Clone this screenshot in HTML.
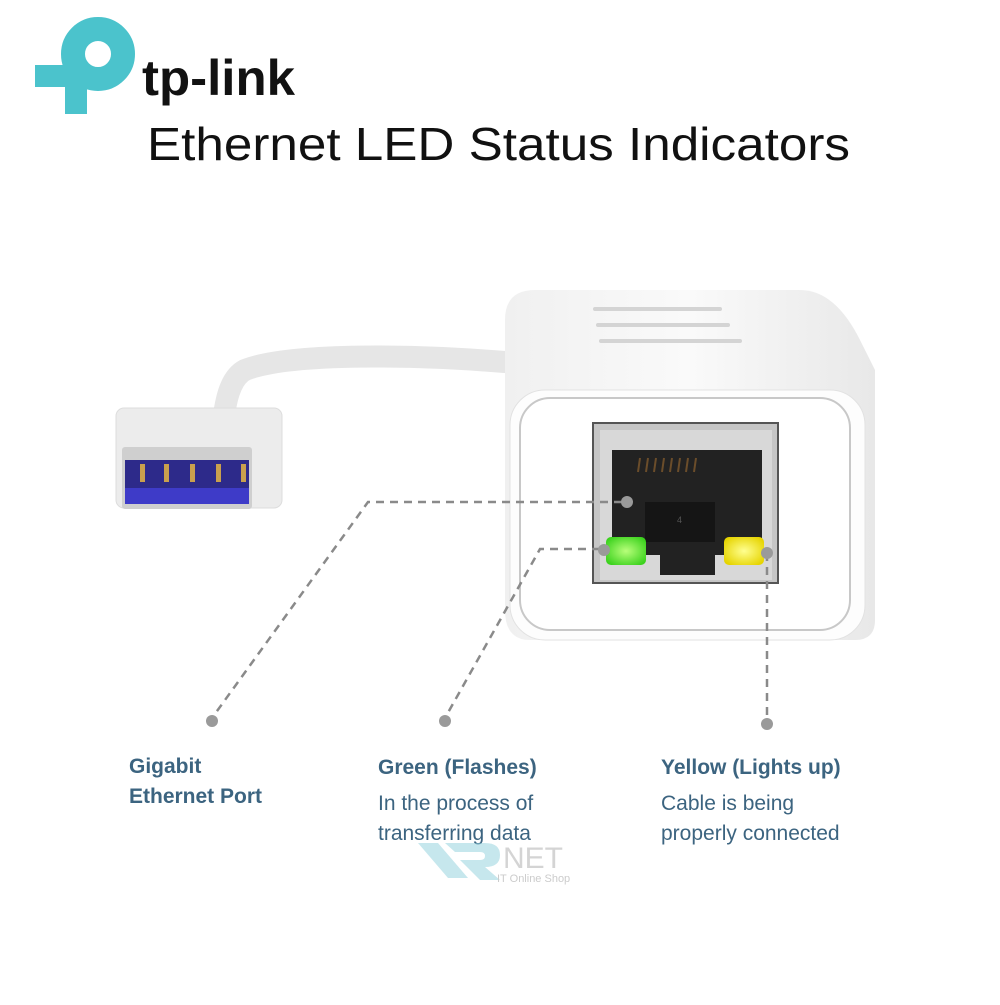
<!DOCTYPE html>
<html><head><meta charset="utf-8"><style>
body{margin:0;background:#fff;width:1000px;height:1000px;overflow:hidden;font-family:"Liberation Sans",sans-serif}
</style></head><body>
<svg width="1000" height="1000" viewBox="0 0 1000 1000" xmlns="http://www.w3.org/2000/svg">
<defs>
<linearGradient id="body" x1="0" y1="0" x2="1" y2="0"><stop offset="0" stop-color="#f0f0f0"/><stop offset="0.5" stop-color="#fafafa"/><stop offset="1" stop-color="#e8e8e8"/></linearGradient>
<radialGradient id="g" cx="0.5" cy="0.5" r="0.6"><stop offset="0" stop-color="#b8ff7a"/><stop offset="1" stop-color="#3cd21e"/></radialGradient>
<radialGradient id="y" cx="0.5" cy="0.5" r="0.6"><stop offset="0" stop-color="#ffff90"/><stop offset="1" stop-color="#e6d400"/></radialGradient>
</defs>
<!-- logo -->
<circle cx="98" cy="54" r="25" fill="none" stroke="#4bc3cc" stroke-width="24"/>
<rect x="35" y="65" width="52" height="22" fill="#4bc3cc"/>
<rect x="65" y="65" width="22" height="49" fill="#4bc3cc"/>
<text x="142" y="95" font-size="50" font-weight="bold" fill="#111" font-family="Liberation Sans" textLength="153" lengthAdjust="spacingAndGlyphs">tp-link</text>
<text x="147" y="160" font-size="46" fill="#111" font-family="Liberation Sans" textLength="703" lengthAdjust="spacingAndGlyphs">Ethernet LED Status Indicators</text>
<!-- cable -->
<path d="M505 362 C420 355 290 352 245 370 C230 378 225 400 222 432" stroke="#e6e6e6" stroke-width="22" fill="none" stroke-linecap="round"/>
<!-- usb plug -->
<rect x="116" y="408" width="166" height="100" rx="8" fill="#ececec" stroke="#ddd"/>
<rect x="122" y="447" width="130" height="62" rx="3" fill="#cfcfcf"/>
<rect x="125" y="460" width="124" height="44" fill="#2d2a8a"/>
<rect x="125" y="488" width="124" height="16" fill="#3e3bc8"/>
<g fill="#c9a04e"><rect x="140" y="464" width="5" height="18"/><rect x="164" y="464" width="5" height="18"/><rect x="190" y="464" width="5" height="18"/><rect x="216" y="464" width="5" height="18"/><rect x="241" y="464" width="5" height="18"/></g>
<!-- device body -->
<path d="M535 290 H800 Q835 290 860 340 L875 370 V620 Q875 640 855 640 H530 Q505 640 505 610 V320 Q505 290 535 290z" fill="url(#body)"/>
<g stroke="#d4d4d4" stroke-width="4" stroke-linecap="round"><line x1="595" y1="309" x2="720" y2="309"/><line x1="598" y1="325" x2="728" y2="325"/><line x1="601" y1="341" x2="740" y2="341"/></g>
<rect x="510" y="390" width="355" height="250" rx="35" fill="#fdfdfd" stroke="#e2e2e2"/>
<rect x="520" y="398" width="330" height="232" rx="30" fill="#fff" stroke="#c8c8c8" stroke-width="2"/>
<!-- port -->
<rect x="593" y="423" width="185" height="160" fill="#c6c6c6" stroke="#555" stroke-width="2"/>
<rect x="600" y="430" width="172" height="150" fill="#d8d8d8"/>
<path d="M612 450 H762 V555 H715 V575 H660 V555 H612z" fill="#222"/>
<g stroke="#6b4d2a" stroke-width="2"><line x1="640" y1="458" x2="638" y2="472"/><line x1="648" y1="458" x2="646" y2="472"/><line x1="656" y1="458" x2="654" y2="472"/><line x1="664" y1="458" x2="662" y2="472"/><line x1="672" y1="458" x2="670" y2="472"/><line x1="680" y1="458" x2="678" y2="472"/><line x1="688" y1="458" x2="686" y2="472"/><line x1="696" y1="458" x2="694" y2="472"/></g>
<rect x="645" y="502" width="70" height="40" fill="#151515"/>
<text x="677" y="523" font-size="9" fill="#555">4</text>
<rect x="606" y="537" width="40" height="28" rx="5" fill="url(#g)"/>
<rect x="724" y="537" width="40" height="28" rx="5" fill="url(#y)"/>
<!-- dashed callouts -->
<g stroke="#8a8a8a" stroke-width="2.5" stroke-dasharray="8 6" fill="none">
<path d="M622 502 H368 L212 718"/>
<path d="M600 549 H540 L445 718"/>
<path d="M767 553 V718"/>
</g>
<g fill="#9a9a9a"><circle cx="627" cy="502" r="6"/><circle cx="604" cy="550" r="6"/><circle cx="767" cy="553" r="6"/><circle cx="212" cy="721" r="6"/><circle cx="445" cy="721" r="6"/><circle cx="767" cy="724" r="6"/></g>
<!-- labels -->
<g font-family="Liberation Sans" fill="#3c6480" font-size="21">
<text x="129" y="773" font-weight="bold">Gigabit</text>
<text x="129" y="803" font-weight="bold">Ethernet Port</text>
<text x="378" y="774" font-weight="bold">Green (Flashes)</text>
<text x="378" y="810">In the process of</text>
<text x="378" y="840">transferring data</text>
<text x="661" y="774" font-weight="bold">Yellow (Lights up)</text>
<text x="661" y="810">Cable is being</text>
<text x="661" y="840">properly connected</text>
</g>
<!-- watermark -->
<g opacity="0.5"><path d="M418 843 h20 l30 35 h-20z M445 843 h40 q15 0 15 12 q0 12 -15 12 l15 13 h-20 l-20 -20 h20 q5 0 5 -4 q0 -4 -5 -4 h-25z" fill="#8fd0dc"/>
<text x="503" y="868" font-size="30" fill="#aaa">NET</text>
<text x="497" y="882" font-size="11" fill="#999">IT Online  Shop</text></g>
</svg>
</body></html>
